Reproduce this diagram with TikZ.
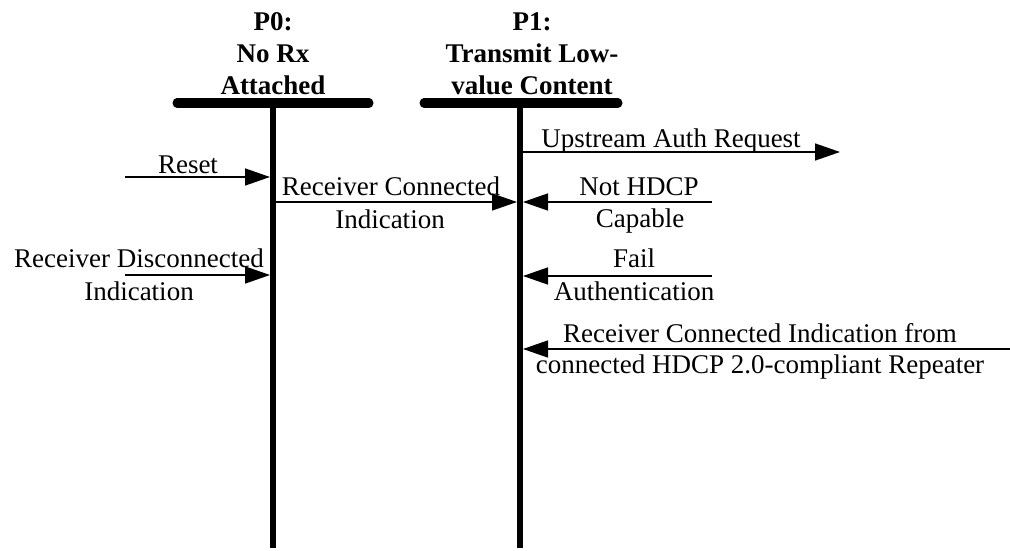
\documentclass[tikz,border=0pt]{standalone}
\usepackage{fontspec}
\setmainfont{Liberation Serif}
\usetikzlibrary{arrows.meta}
\usetikzlibrary{positioning}

\tikzset{
  lifeline/.style={line width=6pt},
  statebar/.style={line width=9pt, line cap=round},
  msg/.style={line width=1.5pt, -{Triangle[length=25pt,width=17pt]}},
  lbl/.style={anchor=base, inner sep=0pt, font=\fontsize{27}{32}\selectfont},
  ttl/.style={anchor=north, inner sep=0pt, align=center, font=\fontsize{27}{32}\selectfont\bfseries},
}

\begin{document}
\begin{tikzpicture}[x=1pt,y=-1pt]
            \useasboundingbox (0,0) rectangle (1010,551);
            % states
            \coordinate (p0) at (273,103);
            \coordinate (p1) at (520,103);
            \coordinate (p0end) at (273,548);
            \coordinate (p1end) at (520,548);
            \coordinate (p0l) at (177,103);
            \coordinate (p0r) at (369,103);
            \coordinate (p1l) at (424,103);
            \coordinate (p1r) at (618,103);
            \node[ttl] (p0title) at (273,12) {P0:\\No Rx\\Attached};
            \node[ttl] (p1title) at (532,12) {P1:\\Transmit Low-\\value Content};
            \draw[statebar] (p0l) -- (p0r);
            \draw[statebar] (p1l) -- (p1r);
            \draw[lifeline] (p0) -- (p0end);
            \draw[lifeline] (p1) -- (p1end);

            % transitions
            \coordinate (reset) at (125,177);
            \coordinate (rc) at (273,202);
            \coordinate (nh) at (712,202);
            \coordinate (rd) at (125,275);
            \coordinate (fa) at (712,276);
            \coordinate (rp) at (1010,349);
            \coordinate (up) at (840,152);
            \draw[msg, shorten >=3pt] (reset) -- (reset -| p0);
            \draw[msg, shorten >=3pt] (rc) -- (rc -| p1);
            \draw[msg, shorten >=3pt] (nh) -- (nh -| p1);
            \draw[msg, shorten >=3pt] (rd) -- (rd -| p0);
            \draw[msg, shorten >=3pt] (fa) -- (fa -| p1);
            \draw[msg, shorten >=3pt] (rp) -- (rp -| p1);
            \draw[msg] (up -| p1) -- (up);

            % labels
            \node[lbl] (lreset) at (188,173) {Reset};
            \node[lbl] (lrc1) at (391,195) {Receiver Connected};
            \node[lbl] (lrc2) at (390,228) {Indication};
            \node[lbl] (lrd1) at (139,267) {Receiver Disconnected};
            \node[lbl] (lrd2) at (139,300) {Indication};
            \node[lbl] (lup) at (671,147) {Upstream Auth Request};
            \node[lbl] (lnh1) at (639,195) {Not HDCP};
            \node[lbl] (lnh2) at (640,227) {Capable};
            \node[lbl] (lfa1) at (634,267) {Fail};
            \node[lbl] (lfa2) at (634,300) {Authentication};
            \node[lbl] (lrp1) at (760,342) {Receiver Connected Indication from};
            \node[lbl] (lrp2) at (760,373) {connected HDCP 2.0-compliant Repeater};
        \end{tikzpicture}
\end{document}
